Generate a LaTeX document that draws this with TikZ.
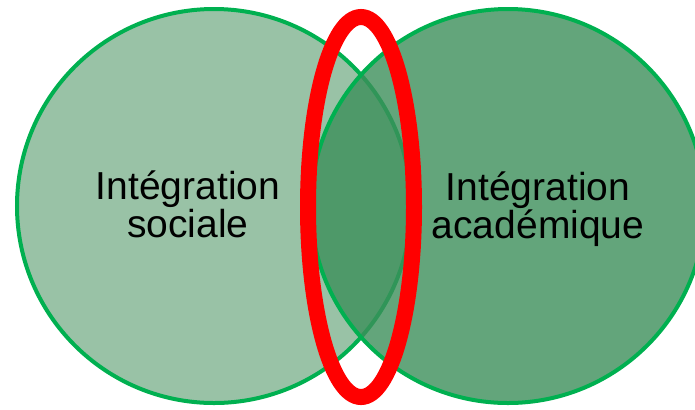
\documentclass[tikz,border=0pt]{standalone}
\usepackage{fontspec}
\setmainfont{Liberation Sans}
\usetikzlibrary{shapes.geometric}
\definecolor{ringgreen}{RGB}{0,176,80}
\definecolor{leftfill}{RGB}{153,194,166}
\definecolor{rightfill}{RGB}{60,143,90}
\tikzset{
  setcircle/.style={draw=ringgreen, line width=4bp},
  lbl/.style={anchor=base, inner sep=0pt, font=\fontsize{39bp}{38bp}\selectfont, text=black},
}
\begin{document}
\begin{tikzpicture}[x=1bp,y=-1bp]
\useasboundingbox (0,0) rectangle (695,409);
\begin{scope}
\clip (0,0) rectangle (695,409);
\node[circle, setcircle, fill=leftfill, minimum size=394bp, inner sep=0pt] (soc) at (214,206) {};
\node[circle, setcircle, fill=rightfill, fill opacity=0.8, minimum size=394bp, inner sep=0pt] (aca) at (508,206) {};
\node[ellipse, draw=red, line width=16bp, minimum width=106bp, minimum height=380bp, inner sep=0pt] (link) at (361,207) {};
\end{scope}
\node[lbl] (s1) at (188,199) {Intégration};
\node[lbl] (s2) at (188,237) {sociale};
\node[lbl] (a1) at (538,200) {Intégration};
\node[lbl] (a2) at (538,238) {académique};
\end{tikzpicture}
\end{document}
